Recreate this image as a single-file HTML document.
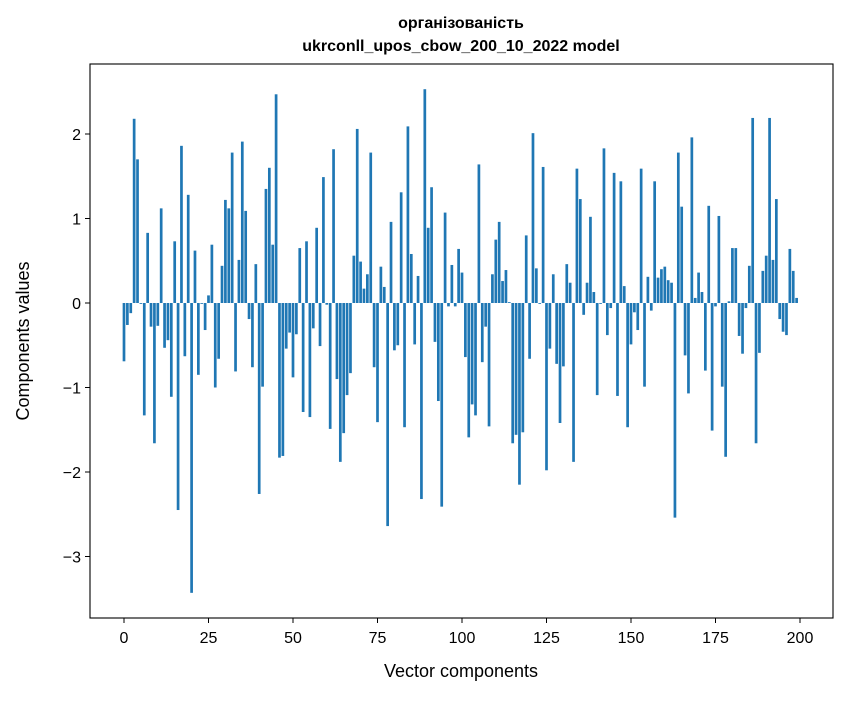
<!DOCTYPE html>
<html><head><meta charset="utf-8"><style>
body{margin:0;background:#fff;}
svg text{font-family:"Liberation Sans","DejaVu Sans",sans-serif;fill:#000;}
</style></head><body>
<svg id="chart" width="847" height="696" xmlns="http://www.w3.org/2000/svg">
<rect x="0" y="0" width="847" height="696" fill="#fff"/>
<text x="461" y="28" font-size="16" font-weight="bold" text-anchor="middle">організованість</text>
<text x="461" y="51" font-size="16" font-weight="bold" text-anchor="middle">ukrconll_upos_cbow_200_10_2022 model</text>
<g id="bars"></g>
<g id="xaxis"></g>
<g id="yaxis"></g>
<rect x="90" y="64" width="743" height="554" fill="none" stroke="#000" stroke-width="1.1"/>
<text x="461" y="677" font-size="18" text-anchor="middle">Vector components</text>
<text transform="translate(29,341) rotate(-90)" font-size="18" text-anchor="middle">Components values</text>
</svg>
<script>
const values = [-0.69,-0.26,-0.12,2.18,1.70,-0.01,-1.33,0.83,-0.28,-1.66,
-0.27,1.12,-0.53,-0.44,-1.11,0.73,-2.45,1.86,-0.63,1.28,
-3.43,0.62,-0.85,-0.01,-0.32,0.09,0.69,-1.00,-0.66,0.44,
1.22,1.12,1.78,-0.81,0.51,1.91,1.09,-0.19,-0.76,0.46,
-2.26,-0.99,1.35,1.60,0.69,2.47,-1.83,-1.81,-0.54,-0.35,
-0.88,-0.37,0.65,-1.29,0.73,-1.35,-0.30,0.89,-0.51,1.49,
-0.02,-1.49,1.82,-0.90,-1.88,-1.54,-1.09,-0.83,0.56,2.06,
0.49,0.17,0.34,1.78,-0.76,-1.41,0.43,0.19,-2.64,0.96,
-0.56,-0.50,1.31,-1.47,2.09,0.58,-0.49,0.32,-2.32,2.53,
0.89,1.37,-0.46,-1.16,-2.41,1.07,-0.04,0.45,-0.04,0.64,
0.36,-0.64,-1.59,-1.20,-1.33,1.64,-0.70,-0.28,-1.46,0.34,
0.75,0.96,0.26,0.39,0.01,-1.66,-1.56,-2.15,-1.53,0.80,
-0.66,2.01,0.41,-0.01,1.61,-1.98,-0.54,0.34,-0.72,-1.42,
-0.75,0.46,0.24,-1.88,1.59,1.23,-0.14,0.24,1.02,0.13,
-1.09,-0.01,1.83,-0.38,-0.06,1.54,-1.10,1.44,0.20,-1.47,
-0.49,-0.11,-0.32,1.59,-0.99,0.31,-0.09,1.44,0.30,0.40,
0.43,0.27,0.24,-2.54,1.78,1.14,-0.62,-1.07,1.96,0.06,
0.36,0.13,-0.80,1.15,-1.51,-0.04,1.03,-0.99,-1.82,0.02,
0.65,0.65,-0.39,-0.60,-0.06,0.44,2.19,-1.66,-0.59,0.38,
0.56,2.19,0.51,1.23,-0.19,-0.34,-0.38,0.64,0.38,0.06];
const xTicks = [0,25,50,75,100,125,150,175,200];
const yTicks = [-3,-2,-1,0,1,2];
const NS = "http://www.w3.org/2000/svg";
const xScale = v => 124 + (v) * 3.38;
const yScale = v => 303 - v * 84.5;
const bw = 0.8 * 3.38;
const gb = document.getElementById('bars');
values.forEach((v, i) => {
  const r = document.createElementNS(NS, 'rect');
  const y0 = yScale(0), y1 = yScale(v);
  r.setAttribute('x', xScale(i) - bw / 2);
  r.setAttribute('y', Math.min(y0, y1));
  r.setAttribute('width', bw);
  r.setAttribute('height', Math.max(Math.abs(y1 - y0), 0.3));
  r.setAttribute('fill', '#1f77b4');
  
  
  gb.appendChild(r);
});
const gx = document.getElementById('xaxis');
xTicks.forEach(t => {
  const l = document.createElementNS(NS, 'line');
  l.setAttribute('x1', xScale(t)); l.setAttribute('x2', xScale(t));
  l.setAttribute('y1', 618); l.setAttribute('y2', 623);
  l.setAttribute('stroke', '#000');
  
  
  gx.appendChild(l);
  const tx = document.createElementNS(NS, 'text');
  tx.setAttribute('x', xScale(t)); tx.setAttribute('y', 643);
  tx.setAttribute('font-size', '16'); tx.setAttribute('text-anchor', 'middle');
  tx.textContent = t;
  
  
  gx.appendChild(tx);
});
const gy = document.getElementById('yaxis');
yTicks.forEach(t => {
  const l = document.createElementNS(NS, 'line');
  l.setAttribute('x1', 85); l.setAttribute('x2', 90);
  l.setAttribute('y1', yScale(t)); l.setAttribute('y2', yScale(t));
  l.setAttribute('stroke', '#000');
  
  
  gy.appendChild(l);
  const tx = document.createElementNS(NS, 'text');
  tx.setAttribute('x', 81); tx.setAttribute('y', yScale(t) + 6);
  tx.setAttribute('font-size', '16'); tx.setAttribute('text-anchor', 'end');
  tx.textContent = t < 0 ? '\u2212' + Math.abs(t) : String(t);
  
  
  gy.appendChild(tx);
});
</script>
</body></html>
